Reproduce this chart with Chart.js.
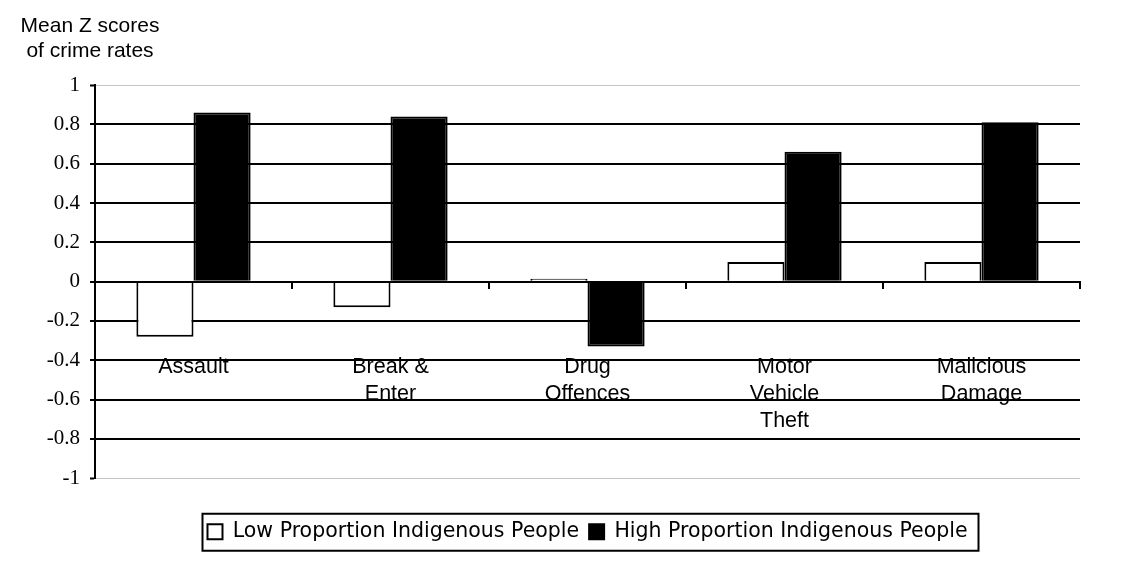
<!DOCTYPE html>
<html>
<head>
<meta charset="utf-8">
<title>Mean Z scores of crime rates</title>
<script src="https://cdn.jsdelivr.net/npm/chart.js@4.4.1/dist/chart.umd.min.js"></script>
<style>
  html, body { margin: 0; padding: 0; background: #ffffff; }
  canvas { display: block; }
</style>
</head>
<body>
<canvas id="chart" width="1123" height="572"></canvas>
<script>
// Offence categories (multi-line axis labels)
const categories = [
  ['Assault'],
  ['Break &', 'Enter'],
  ['Drug', 'Offences'],
  ['Motor', 'Vehicle', 'Theft'],
  ['Malicious', 'Damage']
];

// Mean Z scores per area group
const lowProportion  = [-0.28, -0.13, 0.015, 0.10, 0.10];
const highProportion = [0.86, 0.84, -0.33, 0.66, 0.81];

const seriesNames = ['Low Proportion Indigenous People', 'High Proportion Indigenous People'];

// Y axis tick labels, bottom to top
const yTickLabels = ['-1', '-0.8', '-0.6', '-0.4', '-0.2', '0', '0.2', '0.4', '0.6', '0.8', '1'];

const axisTitleLines = ['Mean Z scores', 'of crime rates'];

// Axis caption above the value axis
const captionPlugin = {
  id: 'caption',
  afterDraw(chart) {
    const ctx = chart.ctx;
    ctx.save();
    ctx.fillStyle = '#000';
    ctx.font = '21px "Liberation Sans", Arial, sans-serif';
    ctx.textAlign = 'center';
    ctx.textBaseline = 'alphabetic';
    axisTitleLines.forEach((line, i) => ctx.fillText(line, 90, 32 + i * 25));
    ctx.restore();
  }
};

// Frame around the legend entries
const legendFramePlugin = {
  id: 'legendFrame',
  afterDraw(chart) {
    const lg = chart.legend;
    if (!lg || !lg.legendHitBoxes || !lg.legendHitBoxes.length) return;
    const boxes = lg.legendHitBoxes;
    let left = Infinity, right = -Infinity, mid = 0;
    boxes.forEach(b => {
      left = Math.min(left, b.left);
      right = Math.max(right, b.left + b.width);
      mid = b.top + b.height / 2;
    });
    const ctx = chart.ctx;
    ctx.save();
    ctx.strokeStyle = '#000';
    ctx.lineWidth = 2;
    ctx.strokeRect(left - 5, mid - 18, (right + 11) - (left - 5), 37);
    ctx.restore();
  }
};

new Chart(document.getElementById('chart'), {
  type: 'bar',
  data: {
    labels: categories,
    datasets: [
      {
        label: seriesNames[0],
        data: lowProportion,
        backgroundColor: '#ffffff',
        borderColor: '#000000',
        borderWidth: 2
      },
      {
        label: seriesNames[1],
        data: highProportion,
        backgroundColor: '#000000',
        borderColor: '#000000',
        borderWidth: 2
      }
    ]
  },
  options: {
    responsive: false,
    animation: false,
    devicePixelRatio: 1,
    datasets: {
      bar: { categoryPercentage: 0.58, barPercentage: 1.0 }
    },
    layout: {
      padding: { left: 0, right: 43, top: 85, bottom: 20 }
    },
    plugins: {
      tooltip: { enabled: false },
      title: { display: false },
      legend: {
        display: true,
        position: 'bottom',
        fullSize: false,
        title: {
          display: true,
          text: ' ',
          font: { size: 1 },
          padding: { top: 32, bottom: 0 }
        },
        labels: {
          boxWidth: 15,
          boxHeight: 15,
          padding: 10,
          color: '#000',
          font: { family: '"DejaVu Sans", Verdana, sans-serif', size: 20.5 }
        }
      }
    },
    scales: {
      x: {
        position: { y: 0 },
        grid: {
          display: true,
          drawOnChartArea: false,
          drawTicks: true,
          tickLength: 6,
          color: '#000',
          lineWidth: 2
        },
        border: { display: true, color: '#000', width: 2, z: 1 },
        ticks: {
          z: -1,
          padding: 66,
          color: '#000',
          maxRotation: 0,
          autoSkip: false,
          font: { family: '"Liberation Sans", Arial, sans-serif', size: 21.5, lineHeight: 1.256 }
        }
      },
      y: {
        min: -1,
        max: 1,
        afterFit(scale) { scale.width = 95; },
        grid: {
          color: (c) => (c.index === 0 || c.index === yTickLabels.length - 1) ? '#c4c4c4' : '#000',
          lineWidth: (c) => (c.index === 0 || c.index === yTickLabels.length - 1) ? 1 : 2,
          tickColor: '#000',
          tickWidth: 2,
          tickLength: 5,
          drawTicks: true
        },
        border: { display: true, color: '#000', width: 2 },
        ticks: {
          stepSize: 0.2,
          padding: 10,
          color: '#000',
          font: { family: '"Liberation Serif", "Times New Roman", serif', size: 21 },
          callback: (value, index) => yTickLabels[index]
        }
      }
    }
  },
  plugins: [captionPlugin, legendFramePlugin]
});
</script>
</body>
</html>
